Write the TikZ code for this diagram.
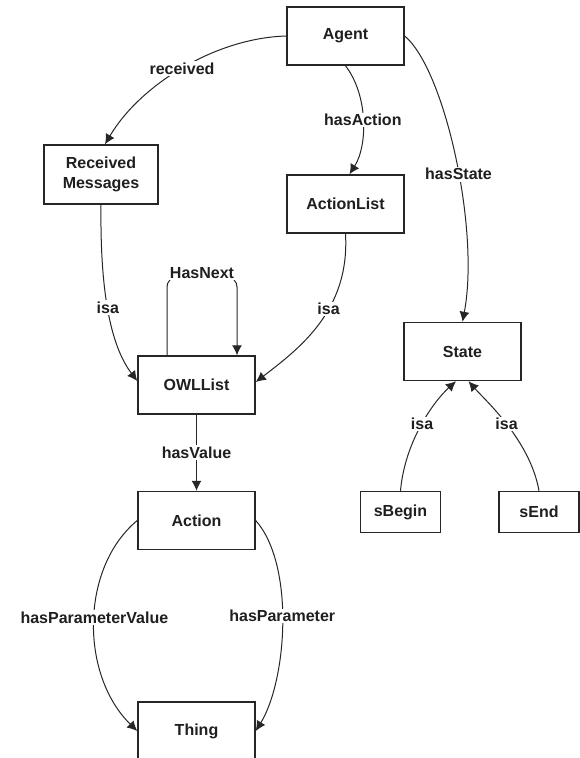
\documentclass[tikz,border=0pt]{standalone}
\usepackage{fontspec}
\setmainfont{Liberation Sans}
\usetikzlibrary{arrows.meta}
\begin{document}
\begin{tikzpicture}[x=1pt,y=-1pt,
  txt/.style={font=\fontsize{16}{20}\selectfont\bfseries, text=black!88},
  box/.style={txt, draw=black!85, line width=1.5pt, fill=white,
    minimum width=117pt, minimum height=58pt, inner sep=2pt, align=center},
  smallbox/.style={box, minimum width=80pt, minimum height=41pt},
  lbl/.style={txt, fill=white, inner sep=1.5pt},
  rel/.style={draw=black!85, line width=1pt, -{Latex[length=10pt,width=10pt]}},
]
\useasboundingbox (0,0) rectangle (580,758);

% classes
\node[box] (agent)  at (345.5,36)  {Agent};
\node[box, minimum width=114pt, minimum height=59pt] (recv) at (101,174.5) {Received\\Messages};
\node[box] (alist)  at (345.5,204) {ActionList};
\node[box] (owl)    at (196.5,385) {OWLList};
\node[box] (state)  at (462.5,351.5) {State};
\node[box] (action) at (196.5,520.5) {Action};
\node[smallbox] (sbegin) at (400.5,512) {sBegin};
\node[smallbox] (send)   at (539,512)   {sEnd};
\node[box] (thing)  at (196.5,731) {Thing};

% properties of Agent
\draw[rel] (agent.west) .. controls (215,38) and (140,85) .. ([xshift=4pt]recv.north)
  node[lbl, pos=0.5] (l1) {received};
\draw[rel] (agent.south) .. controls (368,95) and (368,145) .. ([xshift=4pt]alist.north)
  node[lbl, pos=0.5] (l2) {hasAction};
\draw[rel] (agent.east) .. controls (445,70) and (480,230) .. (state.north)
  node[lbl, pos=0.55] (l3) {hasState};

% list structure
\draw[rel] (recv.south) .. controls (100,290) and (110,345) .. ([yshift=4pt]owl.west)
  node[lbl, pos=0.48] (l4) {isa};
\draw[rel] (alist.south) .. controls (350,310) and (300,348) .. ([yshift=3pt]owl.east)
  node[lbl, pos=0.4] (l5) {isa};
\coordinate (looptop) at (202,277);
\draw[rel, rounded corners=10pt] ([xshift=-29.5pt]owl.north) |- (looptop) -| ([xshift=40.5pt]owl.north);
\node[lbl] (l6) at (202,273) {HasNext};
\draw[rel] (owl.south) -- (action.north) node[lbl, midway] (l7) {hasValue};

% state subclasses
\draw[rel] (sbegin.north) .. controls (405,440) and (435,400) .. ([xshift=-6.5pt]state.south)
  node[lbl, pos=0.5] (l8) {isa};
\draw[rel] (send.north) .. controls (530,440) and (485,400) .. ([xshift=6pt]state.south)
  node[lbl, pos=0.5] (l9) {isa};

% parameters of Action
\draw[rel] (action.west) .. controls (80,568) and (80,675) .. (thing.west)
  node[lbl, pos=0.48] (l10) {hasParameterValue};
\draw[rel] (action.east) .. controls (295,565) and (287,680) .. (thing.east)
  node[lbl, pos=0.47] (l11) {hasParameter};
\end{tikzpicture}
\end{document}
